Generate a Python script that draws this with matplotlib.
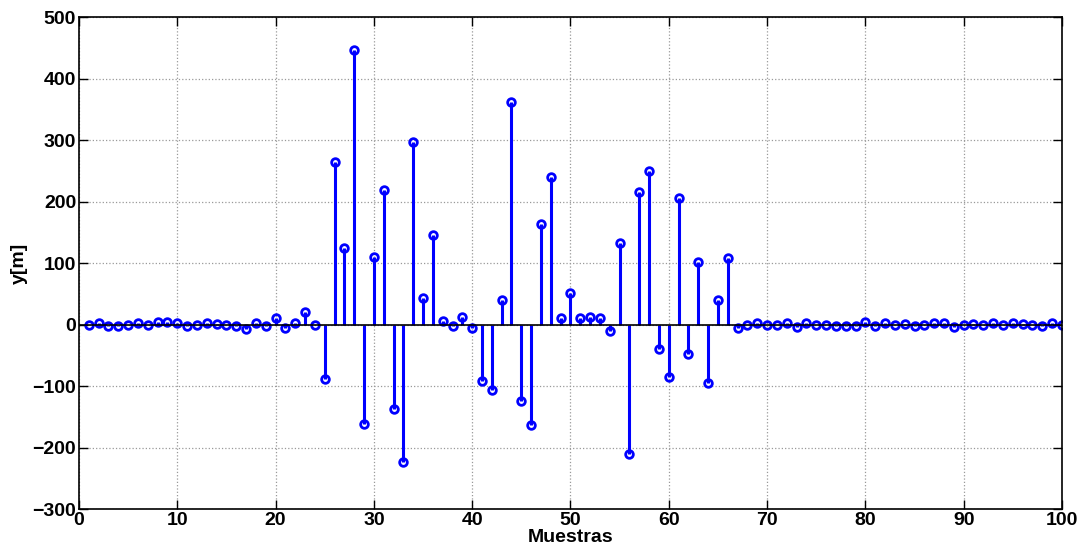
#!/usr/bin/env python3
"""
Stem plot of y[m] over 100 samples (MATLAB-style look).
Saves out.png
"""
import numpy as np
import matplotlib.pyplot as plt

plt.rcParams['font.family'] = ['Liberation Sans', 'DejaVu Sans']
plt.rcParams['font.weight'] = 'bold'

# sample index 1..100
muestras = list(range(1, 101))

# y[m] values
y_vals = [
    -1, 2, -2, -2, 0, 2, -1, 4, 4, 3,
    -2, 0, 2, 1, -1, -3, -7, 3, -2, 10,
    -5, 2, 20, 0, -88, 264, 125, 447, -161, 109,
    219, -138, -224, 297, 43, 145, 5, -2, 12, -6,
    -92, -106, 40, 362, -125, -164, 163, 240, 10, 52,
    11, 13, 11, -10, 132, -210, 216, 249, -40, -86,
    205, -48, 101, -95, 40, 108, -5, 0, 2, 0,
    0, 2, -4, 2, 0, -1, -2, -2, -2, 4,
    -3, 2, 0, 1, -3, 0, 3, 3, -4, 0,
    1, 0, 2, 0, 3, 1, 0, -3, 2, -1,
]

x_ticks = list(range(0, 101, 10))
y_ticks = list(range(-300, 501, 100))


def main():
    fig = plt.figure(figsize=(10.79, 5.54), dpi=100)
    ax = fig.add_axes([0.0732, 0.0812, 0.9110, 0.8881])

    markers, stems, base = ax.stem(muestras, y_vals, basefmt='k-')
    plt.setp(stems, color='#0000ff', linewidth=2.2)
    plt.setp(markers, color='#0000ff', marker='o', markersize=5.5,
             markerfacecolor='none', markeredgewidth=2.0)
    plt.setp(base, color='black', linewidth=1.2)
    base.set_xdata([0, 100])

    ax.set_xlim(0, 100)
    ax.set_ylim(-300, 500)
    ax.set_xticks(x_ticks)
    ax.set_yticks(y_ticks)
    ax.set_yticklabels(['\u2212' + str(-v) if v < 0 else str(v) for v in y_ticks])

    ax.grid(True, linestyle=':', color='#999999', linewidth=0.9)
    ax.tick_params(direction='in', top=True, right=True, length=6.5,
                   labelsize=14, width=1, pad=2)
    for sp in ax.spines.values():
        sp.set_linewidth(1.2)

    ax.set_xlabel('Muestras', fontsize=14, fontweight='bold', labelpad=0)
    ax.set_ylabel('y[m]', fontsize=14, fontweight='bold', labelpad=3)

    fig.savefig('out.png', dpi=100)
    plt.close(fig)


if __name__ == '__main__':
    main()
